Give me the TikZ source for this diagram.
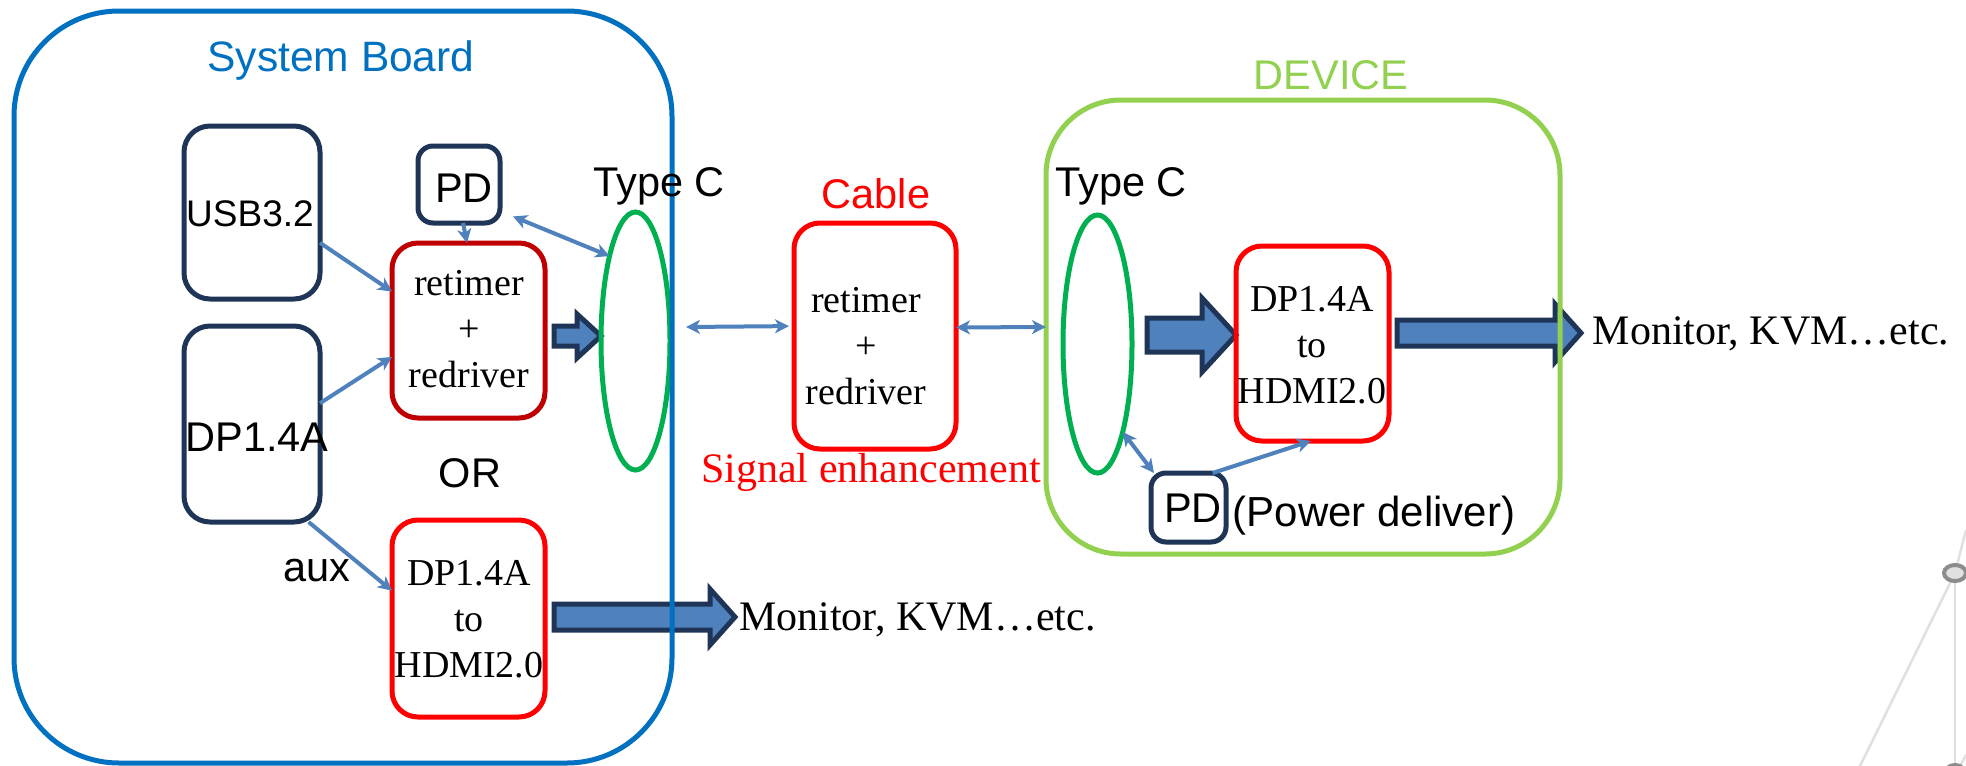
\documentclass[tikz,border=0pt]{standalone}
\usepackage{fontspec}
\setmainfont{Liberation Serif}
\newfontfamily\arialf{Liberation Sans}
\usetikzlibrary{arrows.meta,shapes.geometric}
\definecolor{navy}{HTML}{1F3557}
\definecolor{steel}{HTML}{4F81BD}
\definecolor{boardblue}{HTML}{0070C0}
\definecolor{devgreen}{HTML}{92D050}
\definecolor{ovalgreen}{HTML}{00B050}
\definecolor{darkred}{HTML}{C00000}
\tikzset{
  x=1pt,y=-1pt,
  boxbase/.style={draw,rectangle,inner sep=0pt,outer sep=0pt,line width=5pt},
  navybox/.style={boxbase,draw=navy,rounded corners=26pt},
  smallnavy/.style={boxbase,draw=navy,rounded corners=15pt},
  redbox/.style={boxbase,draw=red,rounded corners=26pt},
  drbox/.style={boxbase,draw=darkred,rounded corners=26pt},
  groupbox/.style={boxbase,rounded corners=105pt},
  oval/.style={draw=ovalgreen,ellipse,inner sep=0pt,outer sep=0pt,line width=5pt,minimum width=69pt,minimum height=258pt},
  sans/.style={inner sep=0pt,font=\arialf\fontsize{41.5}{46}\selectfont},
  serif/.style={inner sep=0pt,align=center,font=\fontsize{38}{46}\selectfont},
  onearrow/.style={draw=steel,line width=4pt,-{Stealth[length=14pt,width=14pt,inset=4pt]}},
  twoarrow/.style={draw=steel,line width=4pt,{Stealth[length=14pt,width=14pt,inset=4pt]}-{Stealth[length=14pt,width=14pt,inset=4pt]}},
  fat/.style={draw=navy,fill=steel,line width=5pt,line join=miter,miter limit=3},
  bgline/.style={draw=black!12,line width=2.5pt},
  bgnode/.style={draw=black!45,fill=black!12,line width=4pt}
}
% x-start, head-start, tip, y-centre, half shaft, half head
\newcommand{\fatarrow}[6]{%
  \draw[fat] (#1,#4-#5) -- (#2,#4-#5) -- (#2,#4-#6) -- (#3,#4) -- (#2,#4+#6) -- (#2,#4+#5) -- (#1,#4+#5) -- cycle;}
\begin{document}
\begin{tikzpicture}
\useasboundingbox (0,0) rectangle (1966,766);
\fill[white] (0,0) rectangle (1966,766);
% faint background fragment
\begin{scope}
\clip (0,0) rectangle (1966,766);
\draw[bgline] (1955,573) -- (1955,766);
\draw[bgline] (1955,573) -- (1860,766);
\draw[bgline] (1955,573) -- (1966,530);
\draw[bgline] (1966,755) -- (1960,766);
\draw[bgnode] (1955,573) ellipse [x radius=11,y radius=8];
\draw[bgnode] (1955,775) ellipse [x radius=11,y radius=10];
\end{scope}
% fat arrows
\fatarrow{554}{577}{601}{336}{10}{22}
\fatarrow{554}{710}{735}{617}{13}{28}
\fatarrow{1147}{1202}{1236}{335}{17}{37}
\fatarrow{1397}{1555}{1581}{333}{13}{29}
% boxes
\node[navybox,minimum width=136pt,minimum height=173pt] (usb) at (252,212.5) {};
\node[navybox,minimum width=136pt,minimum height=196pt] (dp) at (252,424) {};
\node[smallnavy,minimum width=82pt,minimum height=77pt] (pda) at (459,184.5) {};
\node[drbox,minimum width=153pt,minimum height=175pt] (ret) at (468.5,330.5) {};
\node[redbox,minimum width=153pt,minimum height=197pt] (conv) at (468.5,618.5) {};
\node[redbox,minimum width=162pt,minimum height=226pt] (cable) at (875,336) {};
\node[redbox,minimum width=153pt,minimum height=195pt] (conv2) at (1312.5,343.5) {};
\node[smallnavy,minimum width=75pt,minimum height=69pt] (pdb) at (1188.5,507.5) {};
\node[oval] (oa) at (635.5,341) {};
\node[oval] (ob) at (1097.5,344) {};
% group frames
\node[groupbox,draw=boardblue,minimum width=658pt,minimum height=752pt] (board) at (343,387) {};
\node[boxbase,draw=devgreen,rounded corners=75pt,minimum width=514pt,minimum height=454pt] (device) at (1303,327) {};
\coordinate (freea) at (686,327);
% texts
\node[sans,text=boardblue,font=\arialf\fontsize{42.5}{46}\selectfont] (t1) at (341,61) {System Board};
\node[sans,text=devgreen] (t2) at (1331,75) {DEVICE};
\node[sans,font=\arialf\fontsize{37}{46}\selectfont] (t3) at (250,214) {USB3.2};
\node[sans] (t4) at (464,188) {PD};
\node[sans] (t5) at (257,437) {DP1.4A};
\node[sans] (t6) at (659,186) {Type C};
\node[sans,text=red] (t7) at (876,194) {Cable};
\node[sans] (t8) at (470,473) {OR};
\node[sans] (t9) at (317,571) {aux};
\node[sans] (t10) at (1121,186) {Type C};
\node[sans] (t11) at (1193,508) {PD};
\node[sans,font=\arialf\fontsize{42}{46}\selectfont] (t12) at (1374,516) {(Power deliver)};
\node[serif] (r1) at (469,329.5) {retimer\\+\\redriver};
\node[serif] (r2) at (866,346) {retimer\\+\\redriver};
\node[serif] (c1) at (469,619) {DP1.4A\\to\\HDMI2.0};
\node[serif] (c2) at (1312,345) {DP1.4A\\to\\HDMI2.0};
\node[serif,text=red,font=\fontsize{42}{46}\selectfont] (s1) at (871,472) {Signal enhancement};
\node[serif,font=\fontsize{42}{46}\selectfont] (m1) at (917.5,620) {Monitor, KVM…etc.};
\node[serif,font=\fontsize{42}{46}\selectfont] (m2) at (1771,334) {Monitor, KVM…etc.};
% connectors
\draw[onearrow] (usb.-24.9) -- (ret.153.9);
\draw[onearrow] (dp.17.9) -- (ret.199.8);
\draw[onearrow] (pda.-84) -- (ret.91);
\draw[onearrow] (dp.-60.7) -- (conv.160.9);
\draw[twoarrow,shorten <=14pt] (pda.-33.8) -- (oa.107);
\draw[twoarrow,shorten >=5pt] (freea) -- (cable.173.6);
\draw[twoarrow] (cable.6.4) -- (device.west);
\draw[twoarrow] (ob.-74.3) -- (pdb.135.8);
\draw[onearrow] (pdb.55.7) -- (conv2.-91.5);
\end{tikzpicture}
\end{document}
